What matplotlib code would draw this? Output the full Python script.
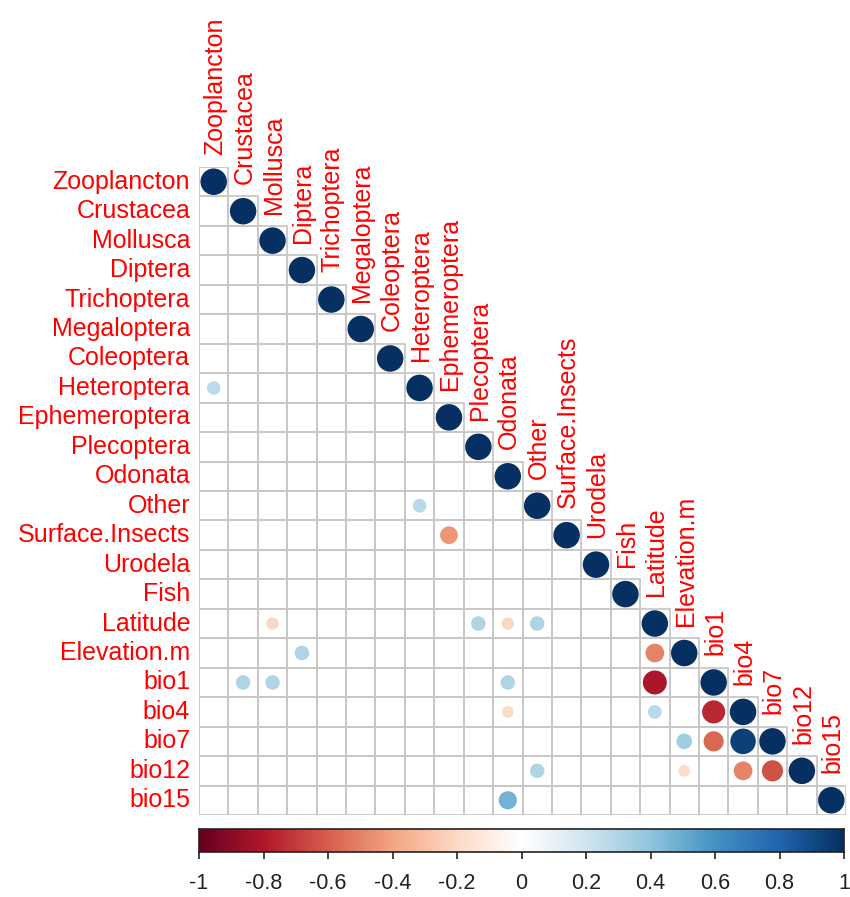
import matplotlib
matplotlib.use("Agg")
import matplotlib.pyplot as plt
import numpy as np
from matplotlib.colors import LinearSegmentedColormap
from matplotlib.patches import Circle, Rectangle

# Variables (rows/columns of the correlation matrix)
variables = ["Zooplancton", "Crustacea", "Mollusca", "Diptera", "Trichoptera",
             "Megaloptera", "Coleoptera", "Heteroptera", "Ephemeroptera",
             "Plecoptera", "Odonata", "Other", "Surface.Insects", "Urodela",
             "Fish", "Latitude", "Elevation.m", "bio1", "bio4", "bio7",
             "bio12", "bio15"]

# Significant off-diagonal correlations (lower triangle)
pair_rows = ["Heteroptera", "Other", "Surface.Insects",
             "Latitude", "Latitude", "Latitude", "Latitude",
             "Elevation.m", "Elevation.m",
             "bio1", "bio1", "bio1", "bio1",
             "bio4", "bio4", "bio4",
             "bio7", "bio7", "bio7",
             "bio12", "bio12", "bio12", "bio12",
             "bio15"]
pair_cols = ["Zooplancton", "Heteroptera", "Ephemeroptera",
             "Mollusca", "Plecoptera", "Odonata", "Other",
             "Diptera", "Latitude",
             "Crustacea", "Mollusca", "Odonata", "Latitude",
             "Odonata", "Latitude", "bio1",
             "Elevation.m", "bio1", "bio4",
             "Other", "Elevation.m", "bio4", "bio7",
             "Odonata"]
pair_r = [0.26, 0.27, -0.45,
          -0.22, 0.30, -0.22, 0.30,
          0.30, -0.50,
          0.30, 0.30, 0.30, -0.82,
          -0.20, 0.27, -0.76,
          0.35, -0.58, 0.93,
          0.30, -0.20, -0.50, -0.64,
          0.47]

cb_ticks = [-1, -0.8, -0.6, -0.4, -0.2, 0, 0.2, 0.4, 0.6, 0.8, 1]

cmap = LinearSegmentedColormap.from_list(
    "corr", ["#67001F", "#B2182B", "#D6604D", "#F4A582", "#FDDBC7", "#FFFFFF",
             "#D1E5F0", "#92C5DE", "#4393C3", "#2166AC", "#053061"], N=200)

n = len(variables)
idx = {v: i for i, v in enumerate(variables)}

mat = np.full((n, n), np.nan)
for i in range(n):
    mat[i, i] = 1.0
for r, c, v in zip(pair_rows, pair_cols, pair_r):
    mat[idx[r], idx[c]] = v

W, H = 850, 897
fig = plt.figure(figsize=(W / 100, H / 100), dpi=100)
fig.patch.set_facecolor("white")

lab_font = "Liberation Sans"
ax = fig.add_axes([199 / W, (H - 815) / H, 647 / W, 648 / H])
ax.set_xlim(-0.5, n - 0.5)
ax.set_ylim(n - 0.5, -0.5)
ax.set_aspect("auto")
ax.axis("off")

# grid cells of the lower triangle
for i in range(n):
    for j in range(i + 1):
        ax.add_patch(Rectangle((j - 0.5, i - 0.5), 1, 1, facecolor="none",
                               edgecolor="#C8C8C8", lw=1.3, zorder=1))

# circles: area proportional to |r|
for i in range(n):
    for j in range(i + 1):
        v = mat[i, j]
        if np.isnan(v):
            continue
        rad = 0.45 * np.sqrt(abs(v))
        ax.add_patch(Circle((j, i), rad, facecolor=cmap((v + 1) / 2),
                            edgecolor="none", zorder=2))

# row labels
for i, name in enumerate(variables):
    ax.text(-0.5 - 0.3, i, name, ha="right", va="center", color="#FF0000",
            fontsize=18, family=lab_font, clip_on=False)

# column labels above the diagonal
for j, name in enumerate(variables):
    ax.text(j + 0.05, j - 0.5 - 0.42, name, ha="center", va="bottom", rotation=90,
            color="#FF0000", fontsize=18, family=lab_font, clip_on=False)

# colour legend
cax = fig.add_axes([199 / W, (H - 852) / H, 645 / W, 23 / H])
grad = np.linspace(-1, 1, 400).reshape(1, -1)
cax.imshow(grad, aspect="auto", cmap=cmap, vmin=-1, vmax=1,
           extent=[-1, 1, 0, 1])
cax.set_xlim(-1, 1)
cax.set_yticks([])
cax.set_xticks(cb_ticks)
cax.set_xticklabels([("%g" % t) for t in cb_ticks],
                    fontsize=15.5, family="Liberation Sans")
cax.tick_params(axis="x", length=5, width=1.2, pad=10, colors="#222222")
for s in cax.spines.values():
    s.set_linewidth(1.2)
    s.set_color("#222222")

fig.savefig("out.png", dpi=100, facecolor="white")
